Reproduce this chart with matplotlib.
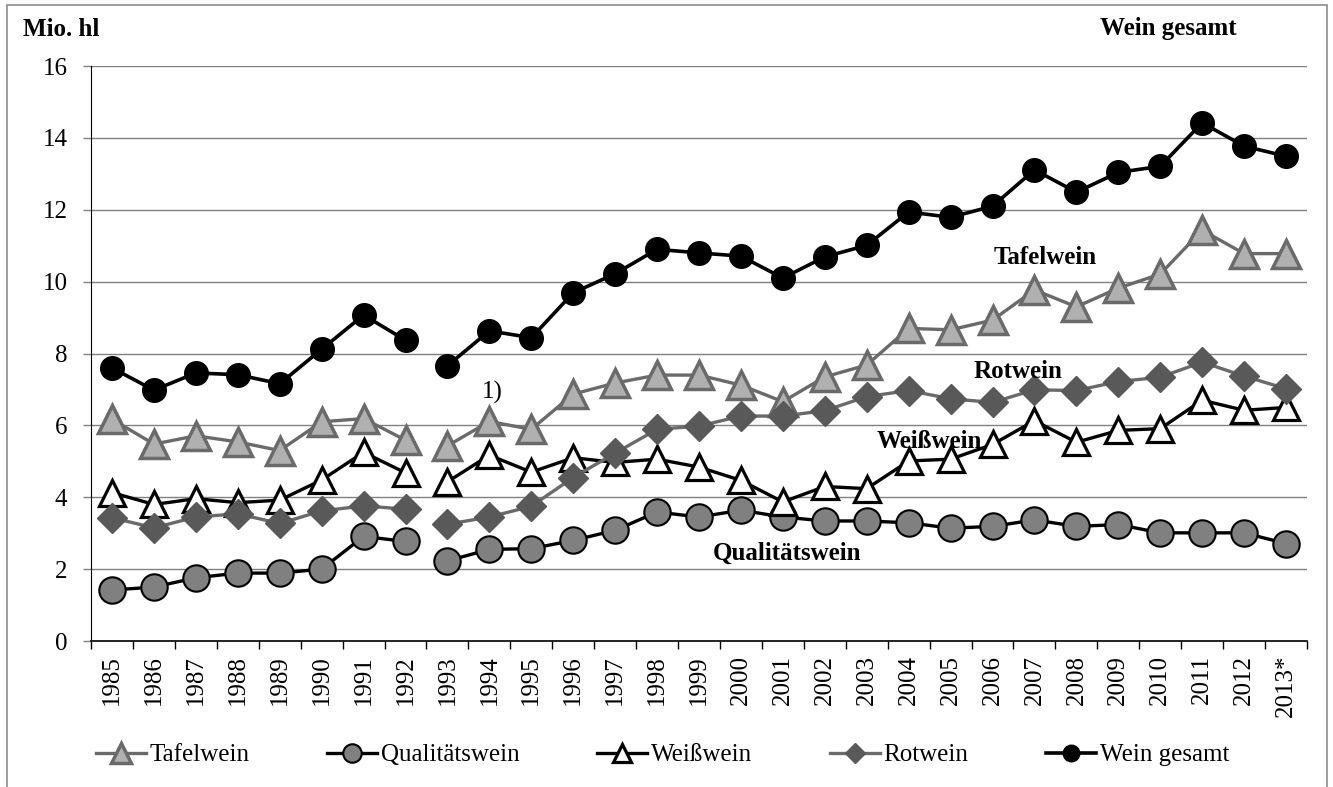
import numpy as np
import matplotlib
matplotlib.use('Agg')
import matplotlib.pyplot as plt
from matplotlib.patches import Rectangle

plt.rcParams['font.family'] = ['Liberation Serif', 'DejaVu Serif']

# Daten (Mio. hl)
years = ['1985', '1986', '1987', '1988', '1989', '1990', '1991', '1992',
         '1993', '1994', '1995', '1996', '1997', '1998', '1999', '2000',
         '2001', '2002', '2003', '2004', '2005', '2006', '2007', '2008',
         '2009', '2010', '2011', '2012', '2013*']

tafelwein = [6.17, 5.48, 5.71, 5.54, 5.30, 6.10, 6.19, 5.59,
             5.43, 6.11, 5.89, 6.87, 7.18, 7.40, 7.40, 7.12,
             6.66, 7.35, 7.68, 8.70, 8.66, 8.93, 9.77, 9.30,
             9.82, 10.21, 11.43, 10.78, 10.78]
qualitaetswein = [1.42, 1.50, 1.76, 1.89, 1.89, 2.00, 2.91, 2.77,
                  2.23, 2.55, 2.57, 2.80, 3.08, 3.59, 3.45, 3.64,
                  3.45, 3.34, 3.34, 3.29, 3.14, 3.19, 3.37, 3.19,
                  3.24, 3.01, 3.01, 3.01, 2.71]
weisswein = [4.13, 3.80, 3.96, 3.85, 3.92, 4.48, 5.25, 4.68,
             4.43, 5.17, 4.70, 5.10, 4.97, 5.06, 4.84, 4.47,
             3.87, 4.30, 4.24, 5.01, 5.06, 5.47, 6.13, 5.53,
             5.86, 5.91, 6.70, 6.42, 6.50]
rotwein = [3.43, 3.15, 3.45, 3.54, 3.27, 3.62, 3.76, 3.67,
           3.25, 3.45, 3.75, 4.55, 5.23, 5.89, 5.98, 6.26,
           6.26, 6.41, 6.80, 6.97, 6.74, 6.64, 6.99, 6.97,
           7.22, 7.34, 7.76, 7.37, 7.02]
wein_gesamt = [7.60, 6.98, 7.46, 7.41, 7.16, 8.12, 9.07, 8.37,
               7.66, 8.63, 8.44, 9.69, 10.22, 10.90, 10.80, 10.71,
               10.10, 10.69, 11.01, 11.94, 11.79, 12.10, 13.11, 12.49,
               13.04, 13.21, 14.42, 13.77, 13.49]

series = [
    ('Tafelwein', tafelwein,
     dict(color='#6a6a6a', lw=2.4, marker='^', ms=20, mfc='#b0b0b0', mec='#6a6a6a', mew=2.5)),
    ('Qualitätswein', qualitaetswein,
     dict(color='black', lw=2.4, marker='o', ms=19, mfc='#808080', mec='black', mew=1.5)),
    ('Weißwein', weisswein,
     dict(color='black', lw=2.4, marker='^', ms=19, mfc='white', mec='black', mew=2.3)),
    ('Rotwein', rotwein,
     dict(color='#6a6a6a', lw=2.4, marker='D', ms=15, mfc='#595959', mec='#595959', mew=1)),
    ('Wein gesamt', wein_gesamt,
     dict(color='black', lw=2.6, marker='o', ms=17, mfc='black', mec='black', mew=1)),
]

x = np.arange(len(years))
brk = years.index('1993')  # Lücke zwischen 1992 und 1993

fig = plt.figure(figsize=(13.33, 7.87), dpi=100)
ax = fig.add_axes([0.0683, 0.1855, 0.9122, 0.7306])

handles = []
for name, vals, st in series:
    vals = np.array(vals)
    h, = ax.plot(x[:brk], vals[:brk], label=name, **st)
    ax.plot(x[brk:], vals[brk:], **st)
    handles.append(h)

ax.set_xlim(-0.5, len(years) - 0.5)
ax.set_ylim(0, 16)
ax.set_yticks(np.arange(0, 17, 2))
ax.set_xticks(x)
ax.set_xticklabels(years, rotation=90)
ax.set_xticks(np.arange(-0.5, len(years)), minor=True)
ax.tick_params(axis='x', which='major', length=0, pad=10, labelsize=18)
ax.tick_params(axis='x', which='minor', length=6, width=1, color='black')
ax.tick_params(axis='y', length=6, width=1, color='#808080', pad=11, labelsize=18)
ax.grid(axis='y', color='#808080', lw=1)
ax.set_axisbelow(True)
for s in ['top', 'right']:
    ax.spines[s].set_visible(False)
ax.spines['left'].set_color('black')
ax.spines['bottom'].set_color('black')
ax.spines['bottom'].set_linewidth(1.2)

# Beschriftungen im Diagramm
ax.text(25.2, 17.05, 'Wein gesamt', fontsize=18, fontweight='bold', ha='center', va='center')
ax.text(22.25, 10.66, 'Tafelwein', fontsize=18, fontweight='bold', ha='center', va='center')
ax.text(21.6, 7.5, 'Rotwein', fontsize=18, fontweight='bold', ha='center', va='center')
ax.text(19.5, 5.56, 'Weißwein', fontsize=18, fontweight='bold', ha='center', va='center')
ax.text(16.1, 2.45, 'Qualitätswein', fontsize=18, fontweight='bold', ha='center', va='center')
ax.text(9.06, 6.93, '1)', fontsize=18, ha='center', va='center')

fig.text(23 / 1333, 1 - 30 / 787, 'Mio. hl', fontsize=18, fontweight='bold', ha='left', va='center')

fig.legend(handles, [h.get_label() for h in handles], loc='center',
           bbox_to_anchor=(0.497, 1 - 755 / 787), ncol=5, frameon=False,
           fontsize=18, handlelength=2.0, handletextpad=0.15,
           columnspacing=3.1, markerscale=0.7)

fig.patches.append(Rectangle((7 / 1333, -0.01), 1320 / 1333, 1 - 5 / 787 + 0.01,
                             transform=fig.transFigure, fill=False,
                             edgecolor='#8c8c8c', lw=1.2))

plt.savefig('out.png', dpi=100)
